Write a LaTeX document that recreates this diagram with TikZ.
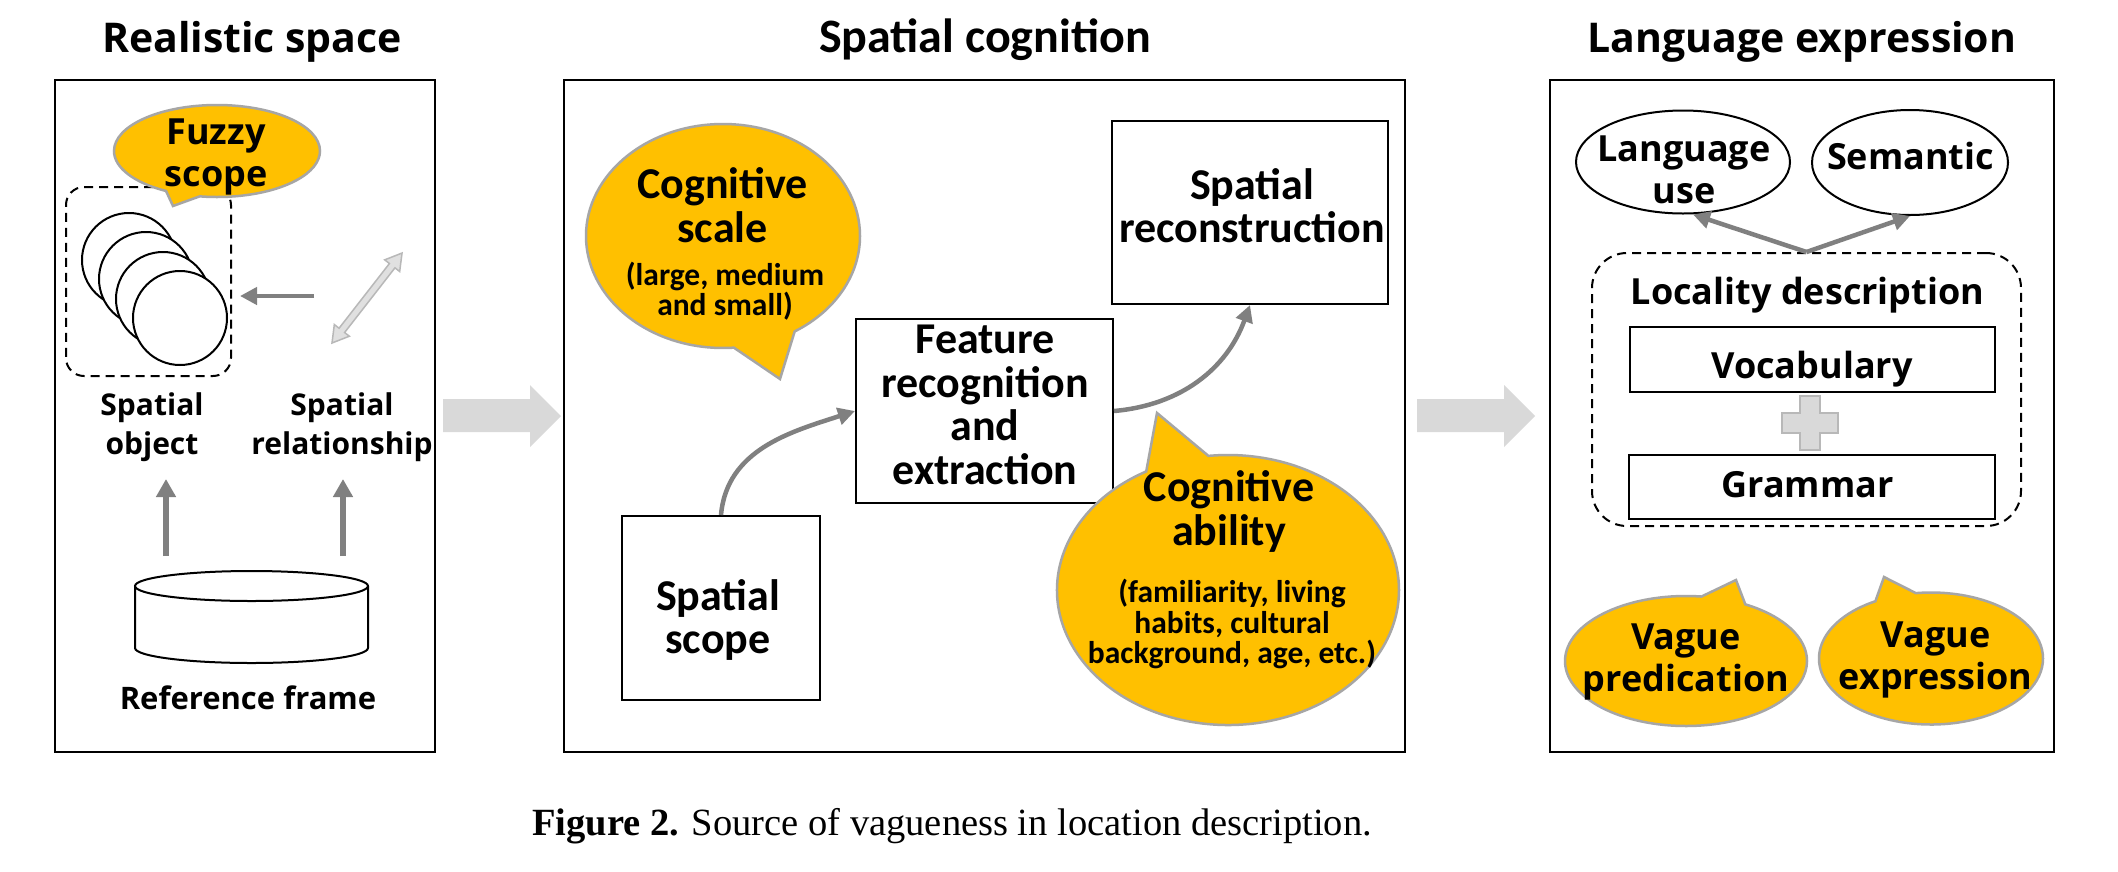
\documentclass[tikz,border=0pt]{standalone}
\usepackage{fontspec}
\setmainfont{Liberation Serif}
\IfFontExistsTF{Noto Sans Bold}{\newfontfamily\nsans{Noto Sans Bold}}{%
  \IfFontExistsTF{Open Sans Bold}{\newfontfamily\nsans{Open Sans Bold}}{%
    \newfontfamily\nsans{Noto Sans}[FakeBold=3]}}
\newfontfamily\carl{Carlito}
\usetikzlibrary{arrows.meta,shapes.callouts,shapes.geometric}
\definecolor{gold}{HTML}{FFC000}
\definecolor{cborder}{HTML}{A6A6A6}
\definecolor{arrgray}{HTML}{808080}
\definecolor{lgray}{HTML}{D9D9D9}
\definecolor{mgray}{HTML}{B8B8B8}
\definecolor{dblfill}{HTML}{E0E0E0}
\begin{document}
\begin{tikzpicture}[x=1pt,y=1pt,
  panel/.style={draw=black, line width=2pt, inner sep=0pt},
  box/.style={draw=black, line width=2pt, fill=white, inner sep=0pt},
  dashbox/.style={draw=black, line width=2pt, dash pattern=on 9pt off 6pt, inner sep=0pt},
  bubble/.style={ellipse callout, draw=cborder, line width=2.5pt, fill=gold, inner sep=0pt},
  oval/.style={ellipse, draw=black, line width=2pt, inner sep=0pt},
  ring/.style={circle, draw=black, line width=2pt, fill=white, inner sep=0pt, minimum size=94pt},
  garrow/.style={draw=arrgray, line width=4.5pt, -{Triangle[length=17pt,width=17pt]}},
  uparrow/.style={draw=arrgray, line width=6pt, -{Triangle[length=18pt,width=19pt]}},
  ttlN/.style={font=\nsans\fontsize{41}{48}\selectfont, anchor=base},
  ttlC/.style={font=\carl\bfseries\fontsize{48}{56}\selectfont, anchor=base},
  lblS/.style={font=\nsans\fontsize{30}{39}\selectfont, align=center},
  lblN/.style={font=\nsans\fontsize{36}{42}\selectfont, align=center},
  txtC/.style={font=\carl\bfseries\fontsize{44}{43.5}\selectfont, align=center},
  subC/.style={font=\carl\bfseries\fontsize{31.5}{30.5}\selectfont, align=center}
]
\useasboundingbox (0,0) rectangle (2118,-871);
\fill[white] (0,0) rectangle (2118,-871);

% titles
\node[ttlN] (t1) at (252,-52) {Realistic space};
\node[ttlC] (t2) at (985,-52) {Spatial cognition};
\node[ttlN] (t3) at (1802,-52) {Language expression};

% panels
\node[panel, minimum width=380pt, minimum height=672pt] (lp) at (245,-416) {};
\node[panel, minimum width=841pt, minimum height=672pt] (mp) at (984.5,-416) {};
\node[panel, minimum width=504pt, minimum height=672pt] (rp) at (1802,-416) {};

% big block arrows
\fill[lgray] (443,-399) -- (530,-399) -- (530,-385) -- (561,-416) -- (530,-447) -- (530,-432) -- (443,-432) -- cycle;
\fill[lgray] (1417,-399) -- (1504,-399) -- (1504,-385) -- (1535,-416) -- (1504,-447) -- (1504,-432) -- (1417,-432) -- cycle;

% ---------- left panel ----------
\node[dashbox, rounded corners=18pt, minimum width=165pt, minimum height=189pt] (fz) at (148.5,-281.5) {};
\node[ring] (c1) at (129,-260) {};
\node[ring] (c2) at (146,-279) {};
\node[ring] (c3) at (163,-299) {};
\node[ring] (c4) at (180,-318) {};
\node[bubble, minimum width=206pt, minimum height=92pt, callout absolute pointer={(173,-206)}, callout pointer arc=20] (fzc) at (217,-151) {};
\node[lblN] (fzt) at (216,-156.7) {Fuzzy\\scope};

\coordinate (la1) at (314,-296);
\coordinate (la2) at (240,-296);
\draw[garrow] (la1) -- (la2);

\begin{scope}[shift={(332,-343)}, rotate=52.1]
\draw[fill=dblfill, draw=mgray, line width=1.5pt] (0,0) -- (16,9.5) -- (16,3.5) -- (98,3.5) -- (98,9.5) -- (114,0) -- (98,-9.5) -- (98,-3.5) -- (16,-3.5) -- (16,-9.5) -- cycle;
\end{scope}

\node[lblS] (so) at (152,-426.75) {Spatial\\object};
\node[lblS] (sr) at (342,-426.75) {Spatial\\relationship};

\coordinate (ua1s) at (166,-556);
\coordinate (ua1e) at (166,-479);
\coordinate (ua2s) at (343,-556);
\coordinate (ua2e) at (343,-479);
\draw[uparrow] (ua1s) -- (ua1e);
\draw[uparrow] (ua2s) -- (ua2e);

\draw[line width=2pt, fill=white] (135,-586) -- (135,-648) arc[start angle=180, end angle=360, x radius=116.5pt, y radius=15pt] -- (368,-586);
\draw[line width=2pt, fill=white] (251.5,-586) ellipse [x radius=116.5pt, y radius=15pt];
\node[font=\nsans\fontsize{31}{38}\selectfont, anchor=base] (rf) at (248,-709) {Reference frame};

% ---------- middle panel ----------
\node[box, minimum width=276pt, minimum height=183pt] (rec) at (1250,-212.5) {};
\node[txtC] (rect) at (1252,-205.5) {Spatial\\reconstruction};
\node[box, minimum width=257pt, minimum height=184pt] (feat) at (984.5,-411) {};
\node[txtC] (featt) at (985,-405) {Feature\\recognition\\and\\extraction};
\node[box, minimum width=198pt, minimum height=184pt] (sc) at (721,-608) {};
\node[txtC] (sct) at (718,-620) {Spatial\\scope};

\node[bubble, minimum width=274pt, minimum height=224pt, callout absolute pointer={(780,-379)}, callout pointer arc=27] (cs) at (723,-236) {};
\node[txtC] (cst) at (722.5,-205) {Cognitive\\scale};
\node[subC] (css) at (725,-291) {(large, medium\\and small)};

\node[bubble, minimum width=342pt, minimum height=270pt, callout absolute pointer={(1157,-413)}, callout pointer arc=22] (ca) at (1228,-590) {};
\node[txtC] (cat) at (1229,-511.4) {Cognitive\\ability};
\node[subC] (cas) at (1232,-624.3) {(familiarity, living\\habits, cultural\\background, age, etc.)};

\draw[garrow] (sc.north) to[out=85, in=198] (feat.west);
\draw[garrow] (feat.east) to[out=5, in=-110] (rec.south);

% ---------- right panel ----------
\node[oval, minimum width=214pt, minimum height=103pt] (lu) at (1683,-162) {};
\node[lblN] (lut) at (1684,-169.6) {Language\\use};
\node[oval, minimum width=196pt, minimum height=105pt] (sem) at (1910,-162.5) {};
\node[lblN, anchor=base] (semt) at (1910.5,-169) {Semantic};

\node[dashbox, rounded corners=35pt, minimum width=429pt, minimum height=273pt] (ld) at (1806.5,-389.5) {};
\node[lblN, anchor=base] (ldt) at (1807.5,-304.5) {Locality description};
\node[box, minimum width=365pt, minimum height=65pt] (voc) at (1812.5,-359.5) {};
\node[lblN, anchor=base] (voct) at (1812,-378) {Vocabulary};
\node[box, minimum width=366pt, minimum height=64pt] (gra) at (1812,-487) {};
\node[lblN, anchor=base] (grat) at (1807.5,-497.5) {Grammar};
\draw[fill=lgray, draw=mgray, line width=1.5pt] (1800,-396) -- (1820,-396) -- (1820,-413) -- (1838,-413) -- (1838,-433) -- (1820,-433) -- (1820,-450) -- (1800,-450) -- (1800,-433) -- (1782,-433) -- (1782,-413) -- (1800,-413) -- cycle;

\draw[garrow] (ld.north) -- ([xshift=10pt]lu.south);
\draw[garrow] (ld.north) -- (sem.south);

\node[bubble, minimum width=242pt, minimum height=130pt, callout absolute pointer={(1736,-580)}, callout pointer arc=22] (vp) at (1686,-661) {};
\node[lblN] (vpt) at (1686,-661.7) {Vague\\predication};
\node[bubble, minimum width=224pt, minimum height=132pt, callout absolute pointer={(1884,-577)}, callout pointer arc=22] (ve) at (1931,-658.5) {};
\node[lblN] (vet) at (1935.7,-659.5) {Vague\\expression};

% caption
\node[anchor=base, font=\fontsize{38.5}{44}\selectfont] (cap) at (952,-835) {\textbf{Figure 2.} Source of vagueness in location description.};
\end{tikzpicture}
\end{document}
